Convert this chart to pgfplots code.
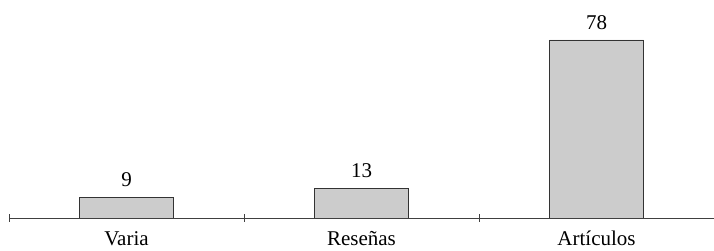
\documentclass[border=0pt]{standalone}
\usepackage{fontspec}
\setmainfont{Liberation Serif}
\usepackage{pgfplots}
\pgfplotsset{compat=1.18}
\begin{document}
\begin{tikzpicture}
\begin{axis}[
  at={(0pt,0pt)}, anchor=south west,
  scale only axis,
  width=705pt, height=218pt,
  xmin=-0.5, xmax=2.5,
  ymin=0, ymax=95.5,
  axis x line*=bottom,
  axis y line=none,
  axis line style={black!75, line width=0.7pt, -},
  ybar, bar width=94pt,
  xtick={0,1,2},
  xticklabels={Varia,Reseñas,Artículos},
  major tick length=0pt,
  extra x ticks={-0.5,0.5,1.5},
  extra x tick labels={},
  extra x tick style={major tick length=8pt, tick align=center, tick style={black!75, line width=0.7pt}},
  xticklabel style={font=\fontsize{21}{24}\selectfont, anchor=base, inner sep=0pt, yshift=-28pt},
  nodes near coords,
  every node near coord/.append style={font=\fontsize{21}{24}\selectfont, anchor=south, inner sep=0pt, yshift=10pt, black},
  /pgf/number format/assume math mode=true,
  enlarge x limits=false,
]
\addplot[fill=black!20, draw=black!80, line width=0.6pt] coordinates {(0,9) (1,13) (2,78)};
\end{axis}
\pgfresetboundingbox
\path[use as bounding box] (-9pt,-33pt) rectangle (705pt,218pt);
\end{tikzpicture}
\end{document}
